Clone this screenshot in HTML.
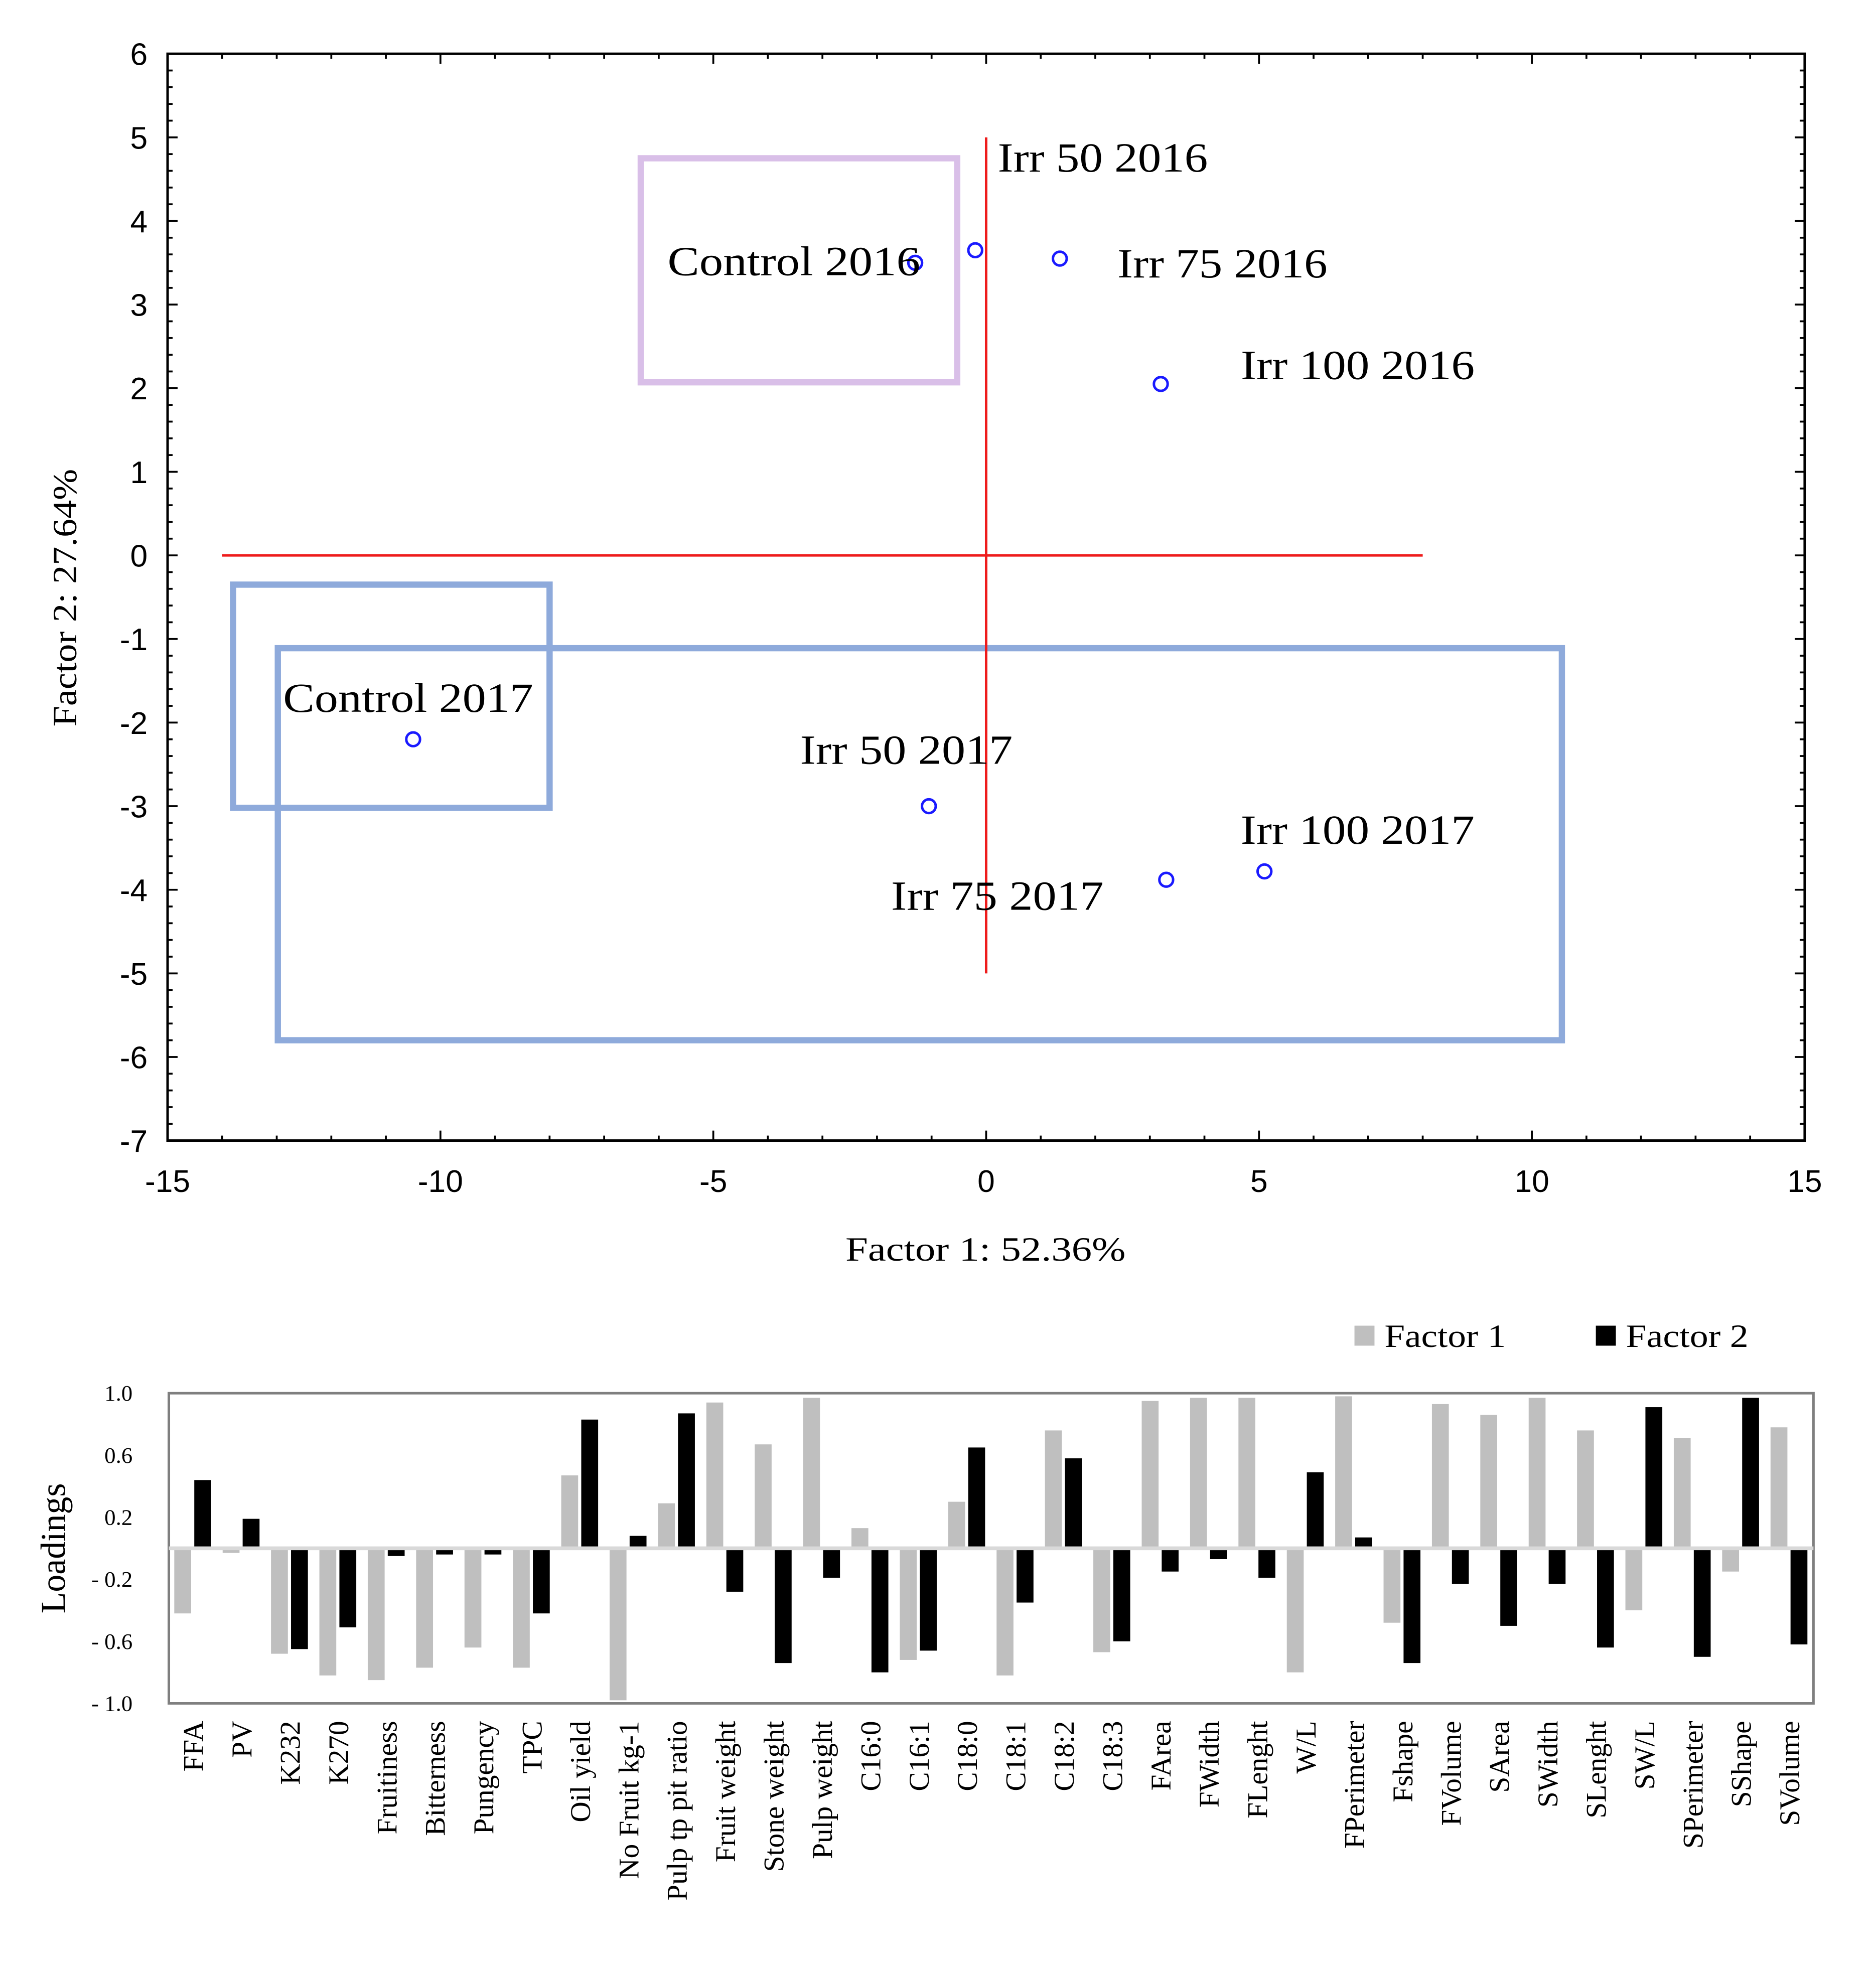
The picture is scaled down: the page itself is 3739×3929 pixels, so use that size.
<!DOCTYPE html>
<html><head><meta charset="utf-8"><style>
html,body{margin:0;padding:0;background:#fff;}
svg{display:block;}
.tick{font-family:"Liberation Sans",sans-serif;font-size:25px;fill:#000;}
.ser{font-family:"Liberation Serif",serif;fill:#000;}
</style></head><body>
<svg id="chart" width="3739" height="3929" viewBox="0 0 1500 1576" preserveAspectRatio="none" xmlns="http://www.w3.org/2000/svg">
<rect width="1500" height="1576" fill="#fff"/>
<g id="top"></g>
<g id="bot"></g>
</svg>
<script>
// ---- score plot data ----
const scoreLabels = ["Control 2016","Irr 50 2016","Irr 75 2016","Irr 100 2016","Control 2017","Irr 50 2017","Irr 75 2017","Irr 100 2017"];
const scoreX = [-1.3,-0.2,1.35,3.2,-10.5,-1.05,3.3,5.1];
const scoreY = [3.5,3.65,3.55,2.05,-2.2,-3.0,-3.88,-3.78];
const xTicks = [-15,-10,-5,0,5,10,15];
const yTicks = [6,5,4,3,2,1,0,-1,-2,-3,-4,-5,-6,-7];
// ---- loadings data ----
const categories = ["FFA","PV","K232","K270","Fruitiness","Bitterness","Pungency","TPC","Oil yield","No Fruit kg-1","Pulp tp pit ratio","Fruit weight","Stone weight","Pulp weight","C16:0","C16:1","C18:0","C18:1","C18:2","C18:3","FArea","FWidth","FLenght","W/L","FPerimeter","Fshape","FVolume","SArea","SWidth","SLenght","SW/L","SPerimeter","SShape","SVolume"];
const factor1 = [-0.42,-0.03,-0.68,-0.82,-0.85,-0.77,-0.64,-0.77,0.47,-0.98,0.29,0.94,0.67,0.97,0.13,-0.72,0.30,-0.82,0.76,-0.67,0.95,0.97,0.97,-0.80,0.98,-0.48,0.93,0.86,0.97,0.76,-0.40,0.71,-0.15,0.78];
const factor2 = [0.44,0.19,-0.65,-0.51,-0.05,-0.04,-0.04,-0.42,0.83,0.08,0.87,-0.28,-0.74,-0.19,-0.80,-0.66,0.65,-0.35,0.58,-0.60,-0.15,-0.07,-0.19,0.49,0.07,-0.74,-0.23,-0.50,-0.23,-0.64,0.91,-0.70,0.97,-0.62];
const loadTicks = [1.0,0.6,0.2,-0.2,-0.6,-1.0];
const loadTickText = ["1.0","0.6","0.2","- 0.2","- 0.6","- 1.0"];

const NS="http://www.w3.org/2000/svg";
function mk(parent,tag,attrs,text){const e=document.createElementNS(NS,tag);for(const k in attrs)e.setAttribute(k,attrs[k]);if(text!==undefined)e.textContent=text;parent.appendChild(e);return e;}

// ===== TOP =====
const T=document.getElementById('top');
const L=134,R=1443,TP=43,BT=912;
const sx=v=>L+(v+15)/30*(R-L);
const sy=v=>TP+(6-v)/13*(BT-TP);
let e;
e=mk(T,'rect',{x:L,y:TP,width:R-L,height:BT-TP,fill:'none',stroke:'#000','stroke-width':2});

for(let v=-15;v<=15;v++){const maj=v%5===0;const len=maj?8:4;
 mk(T,'line',{x1:sx(v),x2:sx(v),y1:BT,y2:BT-len,stroke:'#000','stroke-width':1.5});
 mk(T,'line',{x1:sx(v),x2:sx(v),y1:TP,y2:TP+len,stroke:'#000','stroke-width':1.5});}
for(let i=0;i<=65;i++){const v=-7+i*0.2;const maj=Math.abs(v-Math.round(v))<1e-6;const len=maj?8:4;
 mk(T,'line',{x1:L,x2:L+len,y1:sy(v),y2:sy(v),stroke:'#000','stroke-width':1.5});
 mk(T,'line',{x1:R,x2:R-len,y1:sy(v),y2:sy(v),stroke:'#000','stroke-width':1.5});}
xTicks.forEach(v=>{e=mk(T,'text',{x:sx(v),y:953,'text-anchor':'middle',class:'tick'},String(v));
 });
yTicks.forEach(v=>{e=mk(T,'text',{x:118,y:sy(v)+9,'text-anchor':'end',class:'tick'},String(v));
 });
e=mk(T,'rect',{x:sx(-6.33),y:sy(4.75),width:sx(-0.53)-sx(-6.33),height:sy(2.07)-sy(4.75),fill:'none',stroke:'#d9bfe8','stroke-width':5});

e=mk(T,'rect',{x:sx(-13.8),y:sy(-0.35),width:sx(-8.0)-sx(-13.8),height:sy(-3.02)-sy(-0.35),fill:'none',stroke:'#8eaadb','stroke-width':5});

e=mk(T,'rect',{x:sx(-12.98),y:sy(-1.11),width:sx(10.55)-sx(-12.98),height:sy(-5.8)-sy(-1.11),fill:'none',stroke:'#8eaadb','stroke-width':5});

e=mk(T,'line',{x1:sx(-14),x2:sx(8),y1:sy(0),y2:sy(0),stroke:'#ee1c1c','stroke-width':2});

e=mk(T,'line',{x1:sx(0),x2:sx(0),y1:sy(5),y2:sy(-5),stroke:'#ee1c1c','stroke-width':2});

const lblDx=[-198,18,46,64,-104,-103,-220,-19];
const lblDy=[10,-63,15,-4,-22,-34,24,-22];
const lblW=[202,168,168,187,200,170,170,187];
scoreX.forEach((v,i)=>{
 e=mk(T,'circle',{cx:sx(v),cy:sy(scoreY[i]),r:5.5,fill:'none',stroke:'#1a1aff','stroke-width':2});
 
 e=mk(T,'text',{x:sx(v)+lblDx[i],y:sy(scoreY[i])+lblDy[i],class:'ser','font-size':33,textLength:lblW[i],lengthAdjust:'spacingAndGlyphs'},scoreLabels[i]);
 
});
e=mk(T,'text',{x:788,y:1008,'text-anchor':'middle',class:'ser','font-size':27,textLength:224,lengthAdjust:'spacingAndGlyphs'},'Factor 1: 52.36%');

e=mk(T,'text',{x:0,y:0,'text-anchor':'middle',class:'ser','font-size':27,transform:'translate(61,478) rotate(-90)',textLength:206,lengthAdjust:'spacingAndGlyphs'},'Factor 2: 27.64%');


// ===== BOTTOM =====
const B=document.getElementById('bot');
const BL=135,BR=1450,BTop=1114,BBot=1362;
const ly=v=>1238-v*124;
const step=(BR-BL)/categories.length;
e=mk(B,'rect',{x:BL,y:BTop,width:BR-BL,height:BBot-BTop,fill:'none',stroke:'#7f7f7f','stroke-width':2});

loadTicks.forEach((v,i)=>{e=mk(B,'text',{x:106,y:ly(v)+6,'text-anchor':'end',class:'ser','font-size':18},loadTickText[i]);
 });
categories.forEach((c,i)=>{
 const cx=BL+step*(i+0.5);
 const a=factor1[i],b=factor2[i];
 e=mk(B,'rect',{x:cx-15,y:Math.min(ly(a),ly(0)),width:13.5,height:Math.abs(ly(a)-ly(0)),fill:'#bfbfbf'});
 
 e=mk(B,'rect',{x:cx+1,y:Math.min(ly(b),ly(0)),width:13.5,height:Math.abs(ly(b)-ly(0)),fill:'#000'});
 
 e=mk(B,'text',{x:0,y:0,'text-anchor':'end',class:'ser','font-size':23,transform:`translate(${cx+8},1376) rotate(-90)`},c);
 
});
e=mk(B,'line',{x1:BL,x2:BR,y1:ly(0),y2:ly(0),stroke:'#d9d9d9','stroke-width':3});

e=mk(B,'text',{x:0,y:0,'text-anchor':'middle',class:'ser','font-size':28,transform:'translate(52,1238) rotate(-90)'},'Loadings');

e=mk(B,'rect',{x:1083,y:1060,width:16,height:16,fill:'#bfbfbf'});

e=mk(B,'text',{x:1107,y:1077,class:'ser','font-size':26,textLength:97,lengthAdjust:'spacingAndGlyphs'},'Factor 1');

e=mk(B,'rect',{x:1276,y:1060,width:16,height:16,fill:'#000'});

e=mk(B,'text',{x:1300,y:1077,class:'ser','font-size':26,textLength:98,lengthAdjust:'spacingAndGlyphs'},'Factor 2');

</script>
</body></html>
